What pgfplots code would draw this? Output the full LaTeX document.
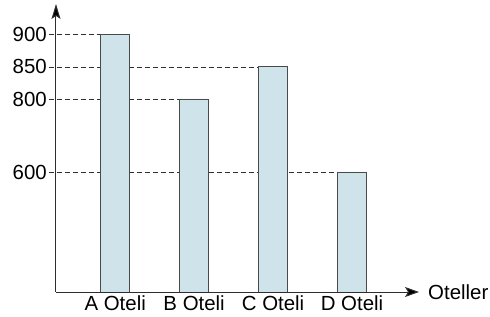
\documentclass[border=0pt]{standalone}
\usepackage{pgfplots}
\pgfplotsset{compat=1.18}
\usepackage{fontspec}
\setmainfont{Liberation Sans}
\usetikzlibrary{arrows.meta}
\definecolor{barfill}{HTML}{CFE3EA}
\definecolor{bardraw}{HTML}{4A4A4A}
\definecolor{axcol}{HTML}{2E2E2E}
\begin{document}
\begin{tikzpicture}
\begin{axis}[
  scale only axis,
  width=363bp, height=288bp,
  xmin=-0.75, xmax=3.849,
  ymin=0, ymax=947.7,
  y coord trafo/.code={\pgfmathparse{(#1<=600) ? (0.2*#1) : ((#1<=800) ? (120+0.365*(#1-600)) : (193+0.643*(#1-800)))}},
  axis x line*=bottom, axis y line*=left,
  axis line style={draw=none},
  clip=false,
  font=\fontsize{20.5}{24}\selectfont,
  /pgf/number format/assume math mode=true,
  xtick={0,1,2,3},
  xticklabels={A Oteli,B Oteli,C Oteli,D Oteli},
  ytick={600,800,850,900},
  yticklabels={600,800,850,900},
  major tick length=0pt,
  tick style={draw=none},
  yticklabel style={anchor=east, inner sep=0pt, xshift=-9bp},
  xticklabel style={anchor=north, inner sep=0pt, yshift=-4bp},
  xlabel={Oteller},
  xlabel style={at={(axis description cs:1,0)}, anchor=west, inner sep=0pt, xshift=9bp},
  ybar, bar width=29.4bp,
]
\addplot[sharp plot, dash pattern=on 5bp off 3bp, draw=axcol, line width=0.6bp] coordinates {(-0.839,900) (0,900)};
\addplot[sharp plot, dash pattern=on 5bp off 3bp, draw=axcol, line width=0.6bp] coordinates {(-0.839,850) (2,850)};
\addplot[sharp plot, dash pattern=on 5bp off 3bp, draw=axcol, line width=0.6bp] coordinates {(-0.839,800) (1,800)};
\addplot[sharp plot, dash pattern=on 5bp off 3bp, draw=axcol, line width=0.6bp] coordinates {(-0.839,600) (3,600)};
\addplot[ybar, bar shift=0pt, fill=barfill, draw=bardraw, line width=0.9bp] coordinates {(0,900) (1,800) (2,850) (3,600)};
\draw[draw=axcol, line width=1bp, -{Stealth[length=14pt,width=10pt,inset=3pt,fill=black]}] (rel axis cs:0,0) -- (rel axis cs:1,0);
\draw[draw=axcol, line width=1bp, -{Stealth[length=15pt,width=9pt,inset=3pt,fill=black]}] (rel axis cs:0,0) -- (rel axis cs:0,1);
\coordinate (O) at (rel axis cs:0,0);
\end{axis}
\pgfresetboundingbox
\path (O) ++(-56bp,-25bp) rectangle ++(490bp,317bp);
\end{tikzpicture}
\end{document}
